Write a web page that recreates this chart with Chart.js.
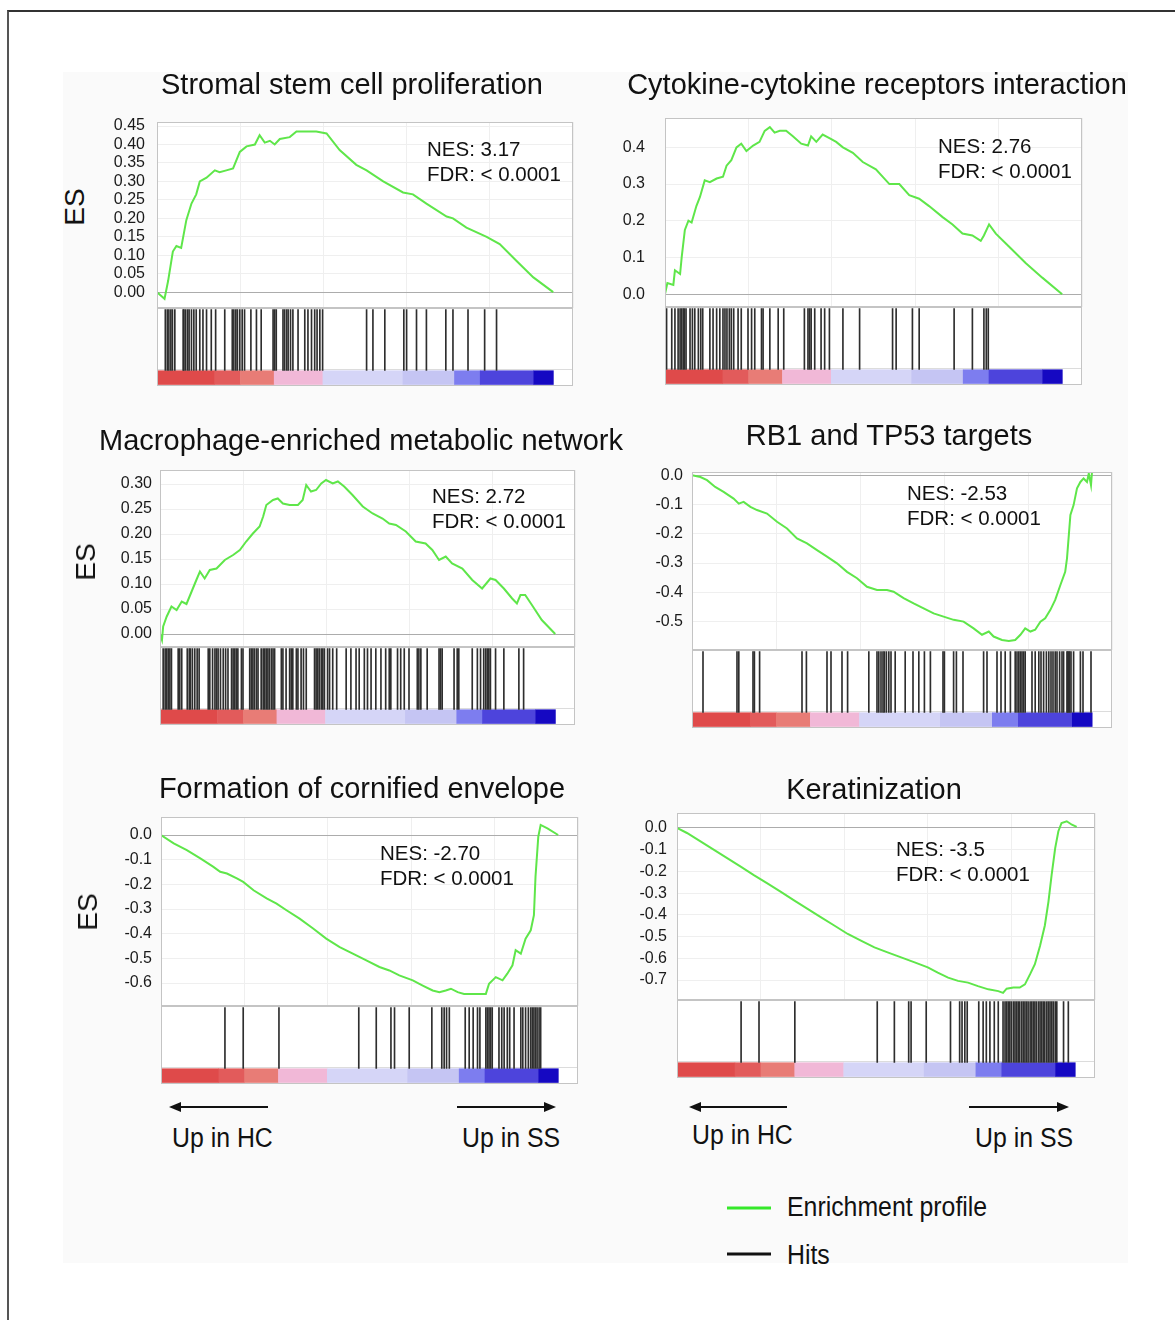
<!DOCTYPE html>
<html>
<head>
<meta charset="utf-8">
<script src="https://cdn.jsdelivr.net/npm/chart.js@4.4.1/dist/chart.umd.min.js"></script>
<style>
    body { margin: 0; background: #fff; }
    #page { position: relative; width: 1175px; height: 1320px; overflow: hidden; font-family: "Liberation Sans", Arial, sans-serif; color: #111; }
    #frame { position: absolute; left: 7px; top: 10px; width: 1200px; height: 1400px; border-left: 2px solid #555; border-top: 2px solid #333; }
    #inner { position: absolute; left: 63px; top: 72px; width: 1065px; height: 1191px; background: #fafafa; }
    .title { position: absolute; font-size: 29px; white-space: nowrap; transform: translate(-50%, -50%); }
    .stat { position: absolute; font-size: 20.5px; line-height: 25px; white-space: nowrap; }
    .es { position: absolute; font-size: 28px; transform: translate(-50%, -50%) rotate(-90deg); }
    .lab { position: absolute; font-size: 27px; white-space: nowrap; transform-origin: left center; transform: translateY(-50%) scaleX(0.92); }
    canvas { position: absolute; }
</style>
</head>
<body>
<div id="page">
    <div id="frame"></div>
    <div id="inner"></div>
    <svg width="1175" height="1320" style="position:absolute;left:0;top:0">
        <line x1="268" y1="1107" x2="178" y2="1107" stroke="#111" stroke-width="2"/>
        <polygon points="169,1107 181,1102 181,1112" fill="#111"/>
        <line x1="457" y1="1107" x2="547" y2="1107" stroke="#111" stroke-width="2"/>
        <polygon points="556,1107 544,1102 544,1112" fill="#111"/>
        <line x1="787" y1="1107" x2="698" y2="1107" stroke="#111" stroke-width="2"/>
        <polygon points="689,1107 701,1102 701,1112" fill="#111"/>
        <line x1="969" y1="1107" x2="1060" y2="1107" stroke="#111" stroke-width="2"/>
        <polygon points="1069,1107 1057,1102 1057,1112" fill="#111"/>
        <line x1="727" y1="1208" x2="771" y2="1208" stroke="#35e82a" stroke-width="3"/>
        <line x1="727" y1="1254" x2="771" y2="1254" stroke="#111" stroke-width="3"/>
    </svg>
    <div class="lab" style="left:172px;top:1138px">Up in HC</div>
    <div class="lab" style="left:462px;top:1138px">Up in SS</div>
    <div class="lab" style="left:692px;top:1135px">Up in HC</div>
    <div class="lab" style="left:975px;top:1138px">Up in SS</div>
    <div class="lab" style="left:787px;top:1207px">Enrichment profile</div>
    <div class="lab" style="left:787px;top:1255px">Hits</div>
</div>
<script>
// gene set names, stats
var titles = ['Stromal stem cell proliferation', 'Cytokine-cytokine receptors interaction',
    'Macrophage-enriched metabolic network', 'RB1 and TP53 targets',
    'Formation of cornified envelope', 'Keratinization'];
var nesValues = ['3.17', '2.76', '2.72', '-2.53', '-2.70', '-3.5'];
var fdrLabels = ['< 0.0001', '< 0.0001', '< 0.0001', '< 0.0001', '< 0.0001', '< 0.0001'];

// y axis ticks per panel
var tickSteps = [0.05, 0.1, 0.05, 0.1, 0.1, 0.1];
var tickDecimals = [2, 1, 2, 1, 1, 1];
var yMins = [-0.043, -0.035, -0.026, -0.597, -0.693, -0.792];
var yMaxs = [0.461, 0.48, 0.328, 0.011, 0.073, 0.069];

// running enrichment score, x = position in ranked list (%)
var stromalEsX = [0, 1.9, 2.8, 4.0, 4.9, 6.1, 7.4, 8.7, 9.9, 10.8, 12.5, 14.6, 15.8, 17.5, 19.2, 20.9, 22.6, 24.7, 25.9, 27.2, 28.5, 29.7, 31.0, 33.5, 35.2, 37.7, 40.2, 42.8, 46.1, 50.3, 52.9, 57.1, 62.1, 64.6, 68.0, 73.1, 74.7, 78.1, 83.2, 86.5, 90.7, 95.0, 100];
var stromalEsY = [0, -0.018, 0.03, 0.11, 0.125, 0.12, 0.195, 0.24, 0.265, 0.30, 0.31, 0.33, 0.325, 0.33, 0.335, 0.38, 0.395, 0.40, 0.425, 0.405, 0.41, 0.40, 0.415, 0.42, 0.435, 0.435, 0.435, 0.43, 0.385, 0.345, 0.33, 0.30, 0.27, 0.265, 0.24, 0.205, 0.20, 0.175, 0.15, 0.13, 0.085, 0.04, 0];
var stromalHits = [2.1, 2.6, 3.0, 3.5, 3.9, 4.5, 6.6, 6.8, 7.2, 7.7, 8.1, 8.7, 9.3, 9.9, 10.8, 11.6, 12.5, 13.7, 14.8, 17.1, 19.0, 19.4, 19.9, 20.3, 20.9, 21.5, 22.1, 23.7, 25.1, 26.3, 29.3, 29.7, 30.1, 31.8, 32.2, 32.7, 33.1, 33.7, 34.3, 35.6, 37.3, 38.1, 39.0, 39.8, 40.4, 41.1, 41.8, 52.9, 54.5, 57.5, 62.3, 63.0, 65.5, 68.0, 72.9, 74.7, 78.5, 82.7, 85.7];

var cytokineEsX = [0, 0.6, 2.1, 2.5, 3.8, 4.2, 5.0, 5.9, 6.7, 7.9, 8.8, 10.0, 11.3, 13.0, 14.6, 15.5, 16.7, 18.0, 19.2, 20.5, 22.2, 23.8, 25.1, 26.4, 27.6, 28.9, 30.5, 32.2, 34.3, 36.0, 36.8, 38.1, 39.7, 41.4, 43.1, 44.8, 47.3, 49.8, 53.1, 56.5, 59.0, 61.5, 64.0, 66.5, 69.9, 72.4, 74.9, 77.4, 79.5, 80.3, 81.6, 83.3, 86.6, 90.8, 95.0, 100];
var cytokineEsY = [0, 0.03, 0.025, 0.065, 0.055, 0.10, 0.175, 0.20, 0.195, 0.24, 0.265, 0.31, 0.305, 0.315, 0.32, 0.35, 0.365, 0.40, 0.41, 0.39, 0.405, 0.415, 0.445, 0.455, 0.44, 0.445, 0.445, 0.43, 0.41, 0.405, 0.43, 0.415, 0.435, 0.425, 0.415, 0.40, 0.385, 0.36, 0.34, 0.30, 0.30, 0.27, 0.26, 0.24, 0.21, 0.19, 0.165, 0.16, 0.145, 0.16, 0.19, 0.165, 0.13, 0.085, 0.045, 0];
var cytokineHits = [0.4, 1.7, 2.5, 3.3, 3.8, 4.2, 4.6, 4.9, 5.3, 6.3, 6.9, 7.5, 8.4, 9.0, 9.5, 11.3, 12.1, 13.0, 13.8, 14.6, 15.1, 15.6, 16.2, 16.7, 17.3, 18.4, 19.2, 20.9, 21.8, 22.6, 24.3, 24.7, 26.4, 28.5, 29.9, 35.1, 36.0, 36.4, 36.8, 37.7, 39.3, 40.2, 41.4, 44.8, 49.0, 57.3, 58.2, 62.3, 64.0, 72.8, 77.4, 80.3, 80.9, 81.4];

var macrophageEsX = [0, 0.5, 0.8, 1.7, 2.9, 4.2, 5.5, 6.7, 8.0, 9.2, 10.1, 11.3, 12.6, 14.3, 16.4, 18.5, 20.2, 21.8, 23.5, 25.2, 26.1, 26.9, 28.6, 29.8, 31.1, 32.8, 34.9, 36.1, 37.0, 38.2, 39.5, 40.8, 42.0, 43.7, 45.0, 46.6, 48.7, 51.3, 53.8, 56.3, 58.0, 59.7, 62.2, 64.7, 67.2, 68.9, 70.6, 72.3, 73.9, 76.5, 79.0, 81.5, 83.6, 84.9, 87.0, 89.1, 90.3, 91.2, 92.4, 94.1, 96.6, 100];
var macrophageEsY = [0, -0.012, 0.015, 0.035, 0.055, 0.048, 0.065, 0.06, 0.085, 0.108, 0.125, 0.111, 0.128, 0.131, 0.148, 0.158, 0.168, 0.185, 0.201, 0.215, 0.235, 0.258, 0.268, 0.271, 0.261, 0.258, 0.258, 0.268, 0.298, 0.285, 0.288, 0.301, 0.308, 0.301, 0.305, 0.295, 0.278, 0.255, 0.241, 0.231, 0.221, 0.218, 0.205, 0.185, 0.181, 0.168, 0.148, 0.155, 0.141, 0.131, 0.108, 0.091, 0.111, 0.108, 0.091, 0.071, 0.061, 0.078, 0.078, 0.058, 0.028, 0];
var macrophageHits = [0.8, 1.3, 1.7, 2.1, 2.5, 2.9, 4.6, 5.0, 5.5, 6.9, 7.4, 7.7, 8.2, 8.8, 9.4, 9.9, 12.2, 12.6, 13.3, 13.9, 14.3, 14.7, 15.3, 16.0, 16.6, 17.2, 18.1, 18.5, 18.9, 19.3, 19.7, 20.6, 21.0, 22.7, 23.1, 23.5, 23.9, 24.4, 24.8, 25.6, 26.1, 26.5, 26.9, 27.3, 27.7, 28.2, 28.6, 29.0, 30.7, 31.1, 31.9, 32.8, 33.2, 33.6, 34.5, 34.9, 35.7, 36.3, 37.0, 39.1, 39.5, 39.9, 40.3, 40.8, 41.2, 41.6, 42.4, 42.9, 43.7, 44.7, 47.1, 48.3, 49.6, 50.4, 51.7, 52.5, 53.4, 54.6, 55.9, 57.1, 58.0, 58.4, 60.1, 60.9, 61.8, 63.0, 65.1, 65.5, 66.0, 67.6, 70.6, 71.0, 71.4, 74.4, 75.2, 75.6, 79.0, 80.3, 81.1, 81.9, 82.4, 82.8, 83.2, 83.6, 84.9, 87.0, 90.8, 92.0];

var rb1EsX = [0, 2.1, 3.75, 5.8, 7.9, 10.4, 11.7, 12.9, 14.6, 16.25, 18.75, 21.25, 23.75, 26.25, 28.75, 31.25, 33.75, 36.25, 38.75, 41.25, 43.75, 46.25, 48.75, 50.4, 52.9, 55.4, 57.9, 60.4, 62.9, 65.4, 67.9, 70.4, 72.5, 74.2, 75.4, 77.5, 79.2, 80.8, 82.1, 83.3, 84.6, 85.8, 87.1, 88.3, 89.6, 90.8, 92.1, 93.3, 93.75, 94.6, 95.4, 96.25, 97.1, 97.9, 98.75, 99.2, 99.75, 100];
var rb1EsY = [0, -0.006, -0.017, -0.04, -0.057, -0.08, -0.097, -0.091, -0.108, -0.119, -0.131, -0.159, -0.182, -0.216, -0.233, -0.256, -0.278, -0.301, -0.33, -0.352, -0.381, -0.392, -0.392, -0.398, -0.42, -0.438, -0.455, -0.472, -0.483, -0.494, -0.5, -0.523, -0.545, -0.534, -0.551, -0.563, -0.566, -0.563, -0.545, -0.523, -0.534, -0.528, -0.5, -0.489, -0.46, -0.426, -0.375, -0.33, -0.284, -0.136, -0.102, -0.045, -0.023, -0.011, -0.023, 0.006, -0.034, 0.011];
var rb1Hits = [2.75, 11.25, 11.7, 15.25, 15.6, 16.9, 27.5, 28.6, 33.75, 34.75, 37.5, 38.9, 44.2, 46.25, 46.7, 47.25, 47.75, 48.1, 48.6, 49.2, 49.75, 50.8, 53.3, 55.25, 56.7, 58.1, 59.6, 62.75, 63.1, 65.4, 66.1, 67.75, 72.9, 73.75, 76.25, 77.25, 78.3, 79.6, 80.8, 81.25, 81.7, 82.1, 82.5, 82.9, 83.3, 85.0, 85.8, 86.7, 87.25, 87.9, 88.6, 89.2, 89.75, 90.25, 90.8, 91.25, 91.9, 92.5, 92.9, 93.75, 93.9, 94.2, 94.4, 94.75, 95.4, 97.1, 97.75, 99.75];

var cornifiedEsX = [0, 3.2, 6.5, 9.9, 13.2, 14.9, 16.6, 19.1, 20.7, 23.3, 26.6, 29.1, 31.6, 34.9, 38.3, 41.6, 45.0, 48.3, 51.7, 55.0, 57.5, 60.0, 63.4, 65.9, 68.4, 70.1, 71.7, 73.0, 74.7, 76.3, 78.4, 80.5, 81.8, 82.6, 84.3, 86.0, 87.2, 88.5, 89.3, 90.6, 91.8, 93.1, 93.9, 94.3, 95.0, 95.6, 97.3, 100];
var cornifiedEsY = [0, -0.034, -0.061, -0.095, -0.129, -0.149, -0.156, -0.176, -0.19, -0.224, -0.257, -0.278, -0.305, -0.339, -0.379, -0.42, -0.454, -0.481, -0.508, -0.535, -0.549, -0.569, -0.589, -0.61, -0.63, -0.637, -0.63, -0.623, -0.637, -0.644, -0.644, -0.644, -0.644, -0.603, -0.576, -0.589, -0.562, -0.528, -0.467, -0.481, -0.42, -0.386, -0.325, -0.169, -0.007, 0.041, 0.027, 0];
var cornifiedHits = [16.1, 20.7, 29.7, 49.8, 54.2, 57.9, 58.8, 62.5, 68.2, 70.7, 71.3, 71.9, 72.6, 76.6, 77.6, 78.6, 79.7, 80.3, 81.8, 82.2, 82.6, 83.0, 83.4, 85.1, 85.8, 86.4, 87.2, 87.8, 88.9, 90.6, 91.1, 91.8, 92.5, 93.1, 93.5, 93.9, 94.3, 94.7, 95.2, 95.6];

var keratinEsX = [0, 2.5, 5.9, 9.2, 12.6, 16.0, 19.3, 22.7, 26.1, 29.4, 32.8, 36.1, 39.5, 42.9, 46.2, 49.6, 52.9, 56.3, 59.7, 63.0, 65.5, 68.1, 70.6, 73.1, 75.6, 78.2, 80.7, 81.9, 82.8, 84.5, 86.1, 87.4, 88.7, 89.9, 91.2, 92.4, 93.3, 94.1, 95.0, 95.8, 96.6, 97.9, 99.2, 100.4];
var keratinEsY = [0, -0.023, -0.062, -0.1, -0.139, -0.178, -0.217, -0.255, -0.294, -0.333, -0.372, -0.41, -0.449, -0.488, -0.519, -0.55, -0.573, -0.596, -0.619, -0.642, -0.666, -0.689, -0.704, -0.712, -0.728, -0.743, -0.751, -0.759, -0.74, -0.735, -0.735, -0.72, -0.673, -0.627, -0.542, -0.449, -0.34, -0.217, -0.093, -0.015, 0.023, 0.031, 0.015, 0.005];
var keratinHits = [16.1, 20.6, 29.6, 50.3, 54.6, 58.2, 58.8, 62.6, 68.7, 71.0, 71.6, 72.3, 72.9, 75.8, 76.9, 77.7, 78.6, 79.7, 80.7, 81.9, 82.4, 82.8, 83.2, 83.6, 84.0, 84.5, 84.9, 85.3, 85.7, 86.1, 86.6, 87.0, 87.4, 87.8, 88.2, 88.7, 89.1, 89.5, 89.9, 90.3, 90.8, 91.2, 91.6, 92.0, 92.4, 92.9, 93.3, 93.7, 94.1, 94.5, 95.0, 95.4, 97.1, 98.3];

// ranked list colour bar: segment edges (%) and colours
var barEdges = [0, 14.5, 21, 29.5, 41.8, 62, 75, 81.5, 95, 100];
var barColors = ['#df4a4a', '#e25b5b', '#e87c76', '#f1b8d7', '#d5d5f7', '#c5c5f3', '#7d7def', '#4d44dc', '#1508c2'];

(function () {
    'use strict';

    var page = document.getElementById('page');
    var GREEN = '#5fe64a';
    var AXIS_W = 60, PAD = 30, HITS_H = 78;
    var BAR_TOP = 0.2, BAR_BOTTOM = 0.015, HIT_TOP = 0.98;

    // where each panel sits on the page
    var layout = [
        {left: 157, right: 573, top: 122, bottom: 308, tickPad: 12, title: [352, 84], stat: [427, 148], es: [75, 207]},
        {left: 665, right: 1082, top: 118, bottom: 307, tickPad: 20, title: [877, 84], stat: [938, 145]},
        {left: 160, right: 575, top: 470, bottom: 647, tickPad: 8, title: [361, 440], stat: [432, 495], es: [86, 562]},
        {left: 692, right: 1112, top: 472, bottom: 650, tickPad: 9, title: [889, 435], stat: [907, 492]},
        {left: 161, right: 578, top: 817, bottom: 1006, tickPad: 9, title: [362, 788], stat: [380, 852], es: [88, 912]},
        {left: 677, right: 1095, top: 813, bottom: 1000, tickPad: 10, title: [874, 789], stat: [896, 848]}
    ];
    var curvesX = [stromalEsX, cytokineEsX, macrophageEsX, rb1EsX, cornifiedEsX, keratinEsX];
    var curvesY = [stromalEsY, cytokineEsY, macrophageEsY, rb1EsY, cornifiedEsY, keratinEsY];
    var hitLists = [stromalHits, cytokineHits, macrophageHits, rb1Hits, cornifiedHits, keratinHits];

    var framePlugin = {
        id: 'frame',
        beforeDraw: function (chart) {
            var a = chart.chartArea, ctx = chart.ctx;
            ctx.save();
            ctx.fillStyle = '#fff';
            ctx.fillRect(a.left, a.top, a.right - a.left, a.bottom - a.top);
            ctx.restore();
        },
        afterDraw: function (chart) {
            var a = chart.chartArea, ctx = chart.ctx;
            ctx.save();
            ctx.strokeStyle = '#c4c4c4';
            ctx.lineWidth = 1;
            ctx.strokeRect(Math.round(a.left) + 0.5, Math.round(a.top) + 0.5,
                Math.round(a.right - a.left) - 1, Math.round(a.bottom - a.top) - 1);
            ctx.restore();
        }
    };

    var colorBarPlugin = {
        id: 'colorBar',
        beforeDatasetsDraw: function (chart) {
            var xs = chart.scales.x, ys = chart.scales.y, ctx = chart.ctx;
            var top = ys.getPixelForValue(BAR_TOP), bottom = ys.getPixelForValue(BAR_BOTTOM);
            ctx.save();
            for (var i = 0; i < barColors.length; i++) {
                var x0 = xs.getPixelForValue(barEdges[i]);
                var x1 = xs.getPixelForValue(barEdges[i + 1]);
                ctx.fillStyle = barColors[i];
                ctx.fillRect(x0, top, x1 - x0 + 0.5, bottom - top);
            }
            ctx.strokeStyle = '#dcdcdc';
            ctx.beginPath();
            ctx.moveTo(chart.chartArea.left, Math.round(top) - 0.5);
            ctx.lineTo(chart.chartArea.right, Math.round(top) - 0.5);
            ctx.stroke();
            ctx.restore();
        }
    };

    function addText(cls, html, x, y) {
        var d = document.createElement('div');
        d.className = cls;
        d.innerHTML = html;
        d.style.left = x + 'px';
        d.style.top = y + 'px';
        page.appendChild(d);
    }

    function addCanvas(left, top, w, h) {
        var c = document.createElement('canvas');
        c.width = w;
        c.height = h;
        c.style.left = left + 'px';
        c.style.top = top + 'px';
        page.appendChild(c);
        return c;
    }

    function esChart(i) {
        var p = layout[i];
        var points = [];
        for (var k = 0; k < Math.min(curvesX[i].length, curvesY[i].length); k++) {
            points.push({x: curvesX[i][k], y: curvesY[i][k]});
        }
        var canvas = addCanvas(p.left - AXIS_W, p.top - PAD, AXIS_W + (p.right - p.left) + 2, (p.bottom - p.top) + 2 * PAD);

        new Chart(canvas, {
            type: 'line',
            data: {
                datasets: [{
                    data: points,
                    borderColor: GREEN,
                    borderWidth: 2,
                    pointRadius: 0,
                    tension: 0
                }]
            },
            options: {
                responsive: false,
                animation: false,
                layout: {padding: {top: PAD, bottom: PAD, left: 0, right: 2}},
                plugins: {legend: {display: false}, tooltip: {enabled: false}},
                scales: {
                    x: {
                        type: 'linear', min: 0, max: 105,
                        ticks: {display: false, stepSize: 21},
                        grid: {color: '#efefef', drawTicks: false},
                        border: {display: false}
                    },
                    y: {
                        min: yMins[i], max: yMaxs[i],
                        afterFit: function (scale) { scale.width = AXIS_W; },
                        ticks: {
                            stepSize: tickSteps[i],
                            includeBounds: false,
                            autoSkip: false,
                            padding: p.tickPad,
                            color: '#1a1a1a',
                            font: {family: 'Liberation Sans', size: 16},
                            callback: function (v) { return Number(v).toFixed(tickDecimals[i]); }
                        },
                        grid: {
                            drawTicks: false,
                            color: function (c) {
                                return c.tick && Math.abs(c.tick.value) < 1e-9 ? '#acacac' : '#efefef';
                            }
                        },
                        border: {display: false}
                    }
                }
            },
            plugins: [framePlugin]
        });
    }

    function hitsChart(i) {
        var p = layout[i];
        var canvas = addCanvas(p.left - 1, p.bottom, (p.right - p.left) + 2, HITS_H + 1);

        new Chart(canvas, {
            type: 'bar',
            data: {
                datasets: [{
                    data: hitLists[i].map(function (h) { return {x: h, y: [BAR_TOP, HIT_TOP]}; }),
                    backgroundColor: '#2e2e2e',
                    barThickness: 1,
                    grouped: false
                }]
            },
            options: {
                responsive: false,
                animation: false,
                layout: {padding: {left: 1, right: 1, top: 0, bottom: 1}},
                plugins: {legend: {display: false}, tooltip: {enabled: false}},
                scales: {
                    x: {type: 'linear', min: 0, max: 105, offset: false, display: false},
                    y: {min: 0, max: 1, display: false}
                }
            },
            plugins: [framePlugin, colorBarPlugin]
        });
    }

    for (var i = 0; i < layout.length; i++) {
        var p = layout[i];
        esChart(i);
        hitsChart(i);
        addText('title', titles[i], p.title[0], p.title[1]);
        addText('stat', 'NES: ' + nesValues[i] + '<br>FDR: ' + fdrLabels[i].replace('<', '&lt;'), p.stat[0], p.stat[1] - 12.5);
        if (p.es) {
            addText('es', 'ES', p.es[0], p.es[1]);
        }
    }
})();
</script>
</body>
</html>
